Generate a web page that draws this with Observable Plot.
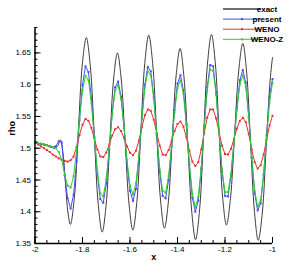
<!DOCTYPE html>
<html><head><meta charset="utf-8">
<script src="https://cdn.jsdelivr.net/npm/d3@7"></script>
<script src="https://cdn.jsdelivr.net/npm/@observablehq/plot@0.6"></script>
<style>body{margin:0;background:#fff;font-family:"Liberation Sans",Arial,sans-serif}</style>
</head><body><div id="chart"></div>
<script>
const xGrid = [-2,-1.9875,-1.975,-1.9625,-1.95,-1.9375,-1.925,-1.9125,-1.9,-1.8875,-1.875,-1.8625,-1.85,-1.8375,-1.825,-1.8125,-1.8,-1.7875,-1.775,-1.7625,-1.75,-1.7375,-1.725,-1.7125,-1.7,-1.6875,-1.675,-1.6625,-1.65,-1.6375,-1.625,-1.6125,-1.6,-1.5875,-1.575,-1.5625,-1.55,-1.5375,-1.525,-1.5125,-1.5,-1.4875,-1.475,-1.4625,-1.45,-1.4375,-1.425,-1.4125,-1.4,-1.3875,-1.375,-1.3625,-1.35,-1.3375,-1.325,-1.3125,-1.3,-1.2875,-1.275,-1.2625,-1.25,-1.2375,-1.225,-1.2125,-1.2,-1.1875,-1.175,-1.1625,-1.15,-1.1375,-1.125,-1.1125,-1.1,-1.0875,-1.075,-1.0625,-1.05,-1.0375,-1.025,-1.0125,-1];
const present = [1.510,1.508,1.507,1.506,1.505,1.503,1.502,1.503,1.511,1.509,1.458,1.421,
1.405,1.427,1.479,1.544,1.600,1.629,1.620,1.579,1.518,1.459,1.420,1.414,1.444,1.497,1.555,1.596,1.605,1.581,1.532,1.476,1.433,1.417,1.436,1.485,1.546,1.600,1.628,1.621,1.581,1.521,1.463,1.425,1.421,1.450,1.503,1.560,1.602,1.615,1.591,1.538,1.474,1.422,1.400,1.417,1.467,1.534,1.596,1.631,1.629,1.588,1.525,1.463,1.425,1.424,1.456,1.508,1.564,1.607,1.623,1.603,1.551,1.485,1.429,1.402,1.413,1.458,1.521,1.581,1.609];
const weno = [1.509,1.506,1.503,1.500,1.497,1.494,1.490,1.487,1.484,1.482,1.480,1.479,
1.481,1.487,1.502,1.521,1.537,1.546,1.543,1.532,1.515,1.498,1.487,1.486,1.493,1.506,1.520,1.530,1.533,1.527,1.516,1.503,1.493,1.489,1.496,1.512,1.533,1.552,1.561,1.559,1.545,1.524,1.504,1.490,1.489,1.497,1.511,1.527,1.538,1.542,1.534,1.517,1.496,1.479,1.472,1.478,1.498,1.524,1.548,1.561,1.561,1.547,1.525,1.504,1.491,1.490,1.499,1.514,1.531,1.543,1.548,1.541,1.522,1.498,1.478,1.468,1.473,1.490,1.513,1.536,1.551];
const wenoZ = [1.510,1.508,1.507,1.506,1.505,1.503,1.502,1.500,1.494,1.482,1.458,1.441,
1.438,1.456,1.497,1.547,1.591,1.614,1.607,1.570,1.516,1.463,1.429,1.424,1.451,1.500,1.553,1.591,1.599,1.577,1.532,1.481,1.441,1.427,1.445,1.489,1.546,1.595,1.621,1.615,1.578,1.523,1.468,1.433,1.430,1.456,1.504,1.556,1.595,1.607,1.585,1.536,1.476,1.428,1.407,1.423,1.470,1.533,1.591,1.624,1.622,1.584,1.525,1.467,1.431,1.431,1.460,1.508,1.560,1.600,1.615,1.597,1.548,1.486,1.433,1.408,1.418,1.459,1.517,1.572,1.603];
const exactX = [-2,-1.95,-1.915,-1.905,-1.893,-1.8825,-1.872,-1.8615,-1.851,-1.834,-1.8175,-1.801,-1.784,-1.767,-1.7505,-1.734,-1.717,-1.701,-1.685,-1.669,-1.653,-1.637,-1.6205,-1.604,-1.588,-1.571,-1.5545,-1.538,-1.521,-1.5045,-1.488,-1.4715,-1.455,-1.4385,-1.422,-1.4055,-1.389,-1.373,-1.3565,-1.340,-1.324,-1.307,-1.2905,-1.274,-1.257,-1.241,-1.2255,-1.210,-1.194,-1.177,-1.1595,-1.142,-1.125,-1.109,-1.0925,-1.076,-1.060,-1.043,-1.0265,-1.010,-1.0];
const exactY = [1.508,1.504,1.500,1.503,1.513,1.4935,1.4465,1.3995,1.380,1.423,1.527,1.631,1.674,1.629,1.521,1.413,1.368,1.409,1.509,1.609,1.650,1.609,1.5105,1.412,1.371,1.416,1.5245,1.633,1.678,1.6335,1.526,1.4185,1.374,1.4155,1.5155,1.6155,1.657,1.613,1.5065,1.400,1.356,1.403,1.5175,1.632,1.679,1.635,1.529,1.423,1.379,1.421,1.522,1.623,1.665,1.620,1.510,1.400,1.355,1.398,1.5025,1.607,1.643];
const xTicks = [-2,-1.8,-1.6,-1.4,-1.2,-1];
const xTickLabels = ["-2","-1.8","-1.6","-1.4","-1.2","-1"];
const yTicks = [1.35,1.4,1.45,1.5,1.55,1.6,1.65];
const yTickLabels = ["1.35","1.4","1.45","1.5","1.55","1.6","1.65"];
const seriesNames = ["exact","present","WENO","WENO-Z"];
const seriesColors = ["#3c3c3c","#4a4aff","#e53030","#2ecc2e"];

const W = 303, H = 268, mL = 34.5, mR = 31, mT = 27, mB = 25;
const innerW = W - mL - mR, innerH = H - mT - mB;
const xMinor = d3.range(0, 21).map(i => +(-2 + i * 0.05).toFixed(2));
const yMinor = d3.range(0, 35).map(i => +(1.35 + i * 0.01).toFixed(2));

const exactData = exactX.map((x, i) => ({x, y: exactY[i]}));
const mk = arr => xGrid.map((x, i) => ({x, y: arr[i]}));
const num = [mk(present), mk(weno), mk(wenoZ)];

const marks = [
  Plot.line(exactData, {x: "x", y: "y", stroke: seriesColors[0], strokeWidth: 1, curve: "catmull-rom"})
];
num.forEach((d, i) => {
  marks.push(Plot.line(d, {x: "x", y: "y", stroke: seriesColors[i + 1], strokeWidth: 1}));
  marks.push(Plot.dot(d, {x: "x", y: "y", fill: seriesColors[i + 1], symbol: "square", r: 1.1}));
});
marks.push(
  Plot.ruleX(xMinor, {x: d => d, y1: 1.69, y2: 1.35, insetTop: innerH - 3, stroke: "#000"}),
  Plot.ruleX(xTicks, {x: d => d, y1: 1.69, y2: 1.35, insetTop: innerH - 6, stroke: "#000"}),
  Plot.ruleY(yMinor, {y: d => d, x1: -2, x2: -1, insetRight: innerW - 3, stroke: "#000"}),
  Plot.ruleY(yTicks, {y: d => d, x1: -2, x2: -1, insetRight: innerW - 6, stroke: "#000"}),
  Plot.ruleX([-2], {stroke: "#000", strokeWidth: 1.5}),
  Plot.ruleY([1.35], {stroke: "#000", strokeWidth: 1.5}),
  Plot.axisX(xTicks, {tickSize: 0, tickPadding: 3, fontSize: 8, label: null, tickFormat: d => xTickLabels[xTicks.indexOf(d)]}),
  Plot.axisY(yTicks, {tickSize: 0, tickPadding: 4, fontSize: 8, label: null, tickFormat: d => yTickLabels[yTicks.indexOf(d)]}),
  Plot.text(["x"], {frameAnchor: "bottom", dy: 16, fontWeight: "bold", fontSize: 9, fill: "#000"}),
  Plot.text(["rho"], {frameAnchor: "left", dx: -22.5, rotate: -90, fontWeight: "bold", fontSize: 9, fill: "#000"})
);

const svg = Plot.plot({
  width: W, height: H, marginLeft: mL, marginRight: mR, marginTop: mT, marginBottom: mB,
  style: {fontFamily: '"Liberation Sans", Arial, sans-serif', background: "#fff", color: "#000", overflow: "visible"},
  x: {domain: [-2, -1]},
  y: {domain: [1.35, 1.69]},
  marks
});

const leg = d3.select(svg).append("g").attr("font-family", '"Liberation Sans", Arial, sans-serif');
seriesNames.forEach((n, i) => {
  const y = 9 + i * 10.1;
  leg.append("line").attr("x1", 223).attr("x2", 261).attr("y1", y).attr("y2", y)
    .attr("stroke", seriesColors[i]).attr("stroke-width", i === 0 ? 1.3 : 1);
  if (i > 0) leg.append("rect").attr("x", 241).attr("y", y - 1).attr("width", 2).attr("height", 2).attr("fill", seriesColors[i]);
  leg.append("text").attr("x", 267).attr("y", y).attr("dy", "0.35em")
    .attr("font-size", 8).attr("font-weight", "bold").attr("fill", "#000").text(n);
});

document.getElementById("chart").appendChild(svg);
</script>
</body></html>
